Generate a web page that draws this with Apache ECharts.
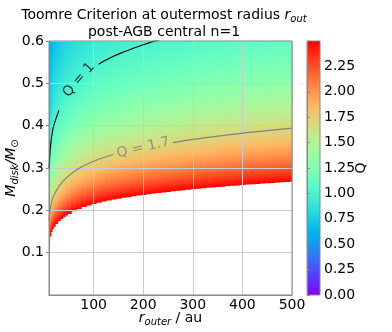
<!DOCTYPE html>
<html><head><meta charset="utf-8">
<script src="https://cdn.jsdelivr.net/npm/echarts@6/dist/echarts.min.js"></script>
<style>html,body{margin:0;padding:0;background:#fff}#c{width:392px;height:332px}</style>
</head><body><div id="c"></div>
<script>
// Outer radius samples (au)
const rOuter = [10,12.5,15,17.5,20,25,30,35,40,45,50,60,70,80,90,100,110,120,130,140,150,160,170,180,190,200,
  210,220,230,240,250,260,270,280,290,300,310,320,330,340,350,360,370,380,390,400,410,420,430,440,450,460,470,480,490,500];
// Q * (M_disk/M_sun) at each radius (Q = value / M_disk)
const qTimesMass = [0.300,0.345,0.372,0.390,0.402,0.420,0.436,0.449,0.460,0.470,0.479,0.495,0.508,0.519,0.528,0.537,0.545,0.552,0.558,0.564,0.569,0.574,0.578,0.583,0.587,0.591,
  0.595,0.599,0.602,0.606,0.609,0.612,0.615,0.619,0.622,0.625,0.627,0.630,0.633,0.635,0.638,0.640,0.643,0.645,0.647,0.650,0.652,0.654,0.656,0.658,0.660,0.662,0.664,0.666,0.668,0.670];
const contourLevels = [1, 1.7];
const contourText = ['Q = 1', 'Q = 1.7'];
const contourLabelR = [70, 200];
const contourGap = [[30, 110], [140, 260]];
const qMax = 2.5;
const massMax = 0.6;
const colorbarTicks = [0, 0.25, 0.5, 0.75, 1, 1.25, 1.5, 1.75, 2, 2.25];

const F = 'DejaVu Sans';
function rainbow(t) {
  t = Math.max(0, Math.min(1, t));
  const c = v => Math.round(255 * Math.max(0, Math.min(1, v)));
  return 'rgb(' + c(Math.abs(2 * t - 0.5)) + ',' + c(Math.sin(Math.PI * t)) + ',' + c(Math.cos(Math.PI * t / 2)) + ')';
}
const xMin = rOuter[0], xMax = rOuter[rOuter.length - 1];
const cols = rOuter.map((r, i) => {
  const l = i === 0 ? r : (rOuter[i - 1] + r) / 2;
  const rr = i === rOuter.length - 1 ? r : (rOuter[i + 1] + r) / 2;
  return [r, qTimesMass[i], l, rr];
});

function heatItem(params, api) {
  const g = api.value(1), l = api.value(2), rr = api.value(3);
  const mBot = g / qMax, mTop = massMax;
  const p1 = api.coord([l, mTop]), p2 = api.coord([rr, mBot]);
  const x0 = p1[0] - (l > xMin ? 0.5 : 0), x1 = p2[0] + (rr < xMax ? 0.5 : 0);
  const N = 30, stops = [];
  for (let k = 0; k <= N; k++) {
    const f = k / N, m = mTop - f * (mTop - mBot);
    stops.push({ offset: f, color: rainbow(g / m / qMax) });
  }
  return { type: 'rect', shape: { x: x0, y: p1[1], width: x1 - x0, height: p2[1] - p1[1] },
    style: { fill: new echarts.graphic.LinearGradient(0, 0, 0, 1, stops) } };
}
function barItem(params, api) {
  const p1 = api.coord([0, api.value(1)]), p2 = api.coord([1, api.value(0)]);
  const stops = [];
  for (let k = 0; k <= 40; k++) stops.push({ offset: k / 40, color: rainbow(1 - k / 40) });
  return { type: 'rect', shape: { x: p1[0], y: p1[1], width: p2[0] - p1[0], height: p2[1] - p1[1] },
    style: { fill: new echarts.graphic.LinearGradient(0, 0, 0, 1, stops) } };
}

const lineSeries = contourLevels.map((q, j) => ({
  type: 'line', xAxisIndex: 0, yAxisIndex: 0, z: 6, showSymbol: false, symbol: 'none', clip: true,
  connectNulls: false, animation: false,
  lineStyle: { color: j === 0 ? '#000' : '#808080', width: 1.1 },
  data: rOuter.map((r, i) => (r > contourGap[j][0] && r < contourGap[j][1]) ? [r, null] : [r, qTimesMass[i] / q])
}));
const labelSeries = contourLevels.map((q, j) => ({
  type: 'scatter', xAxisIndex: 0, yAxisIndex: 0, z: 7, symbolSize: 0, animation: false,
  data: [[contourLabelR[j], qTimesMass[rOuter.indexOf(contourLabelR[j])] / q]],
  label: { show: true, position: 'inside', formatter: contourText[j], rotate: j === 0 ? 49 : 13,
    fontSize: 14, fontFamily: F, color: j === 0 ? '#000' : '#808080' }
}));

const chart = echarts.init(document.getElementById('c'), null, { renderer: 'canvas' });
const sub = { fontSize: 10, fontStyle: 'italic', fontWeight: 'normal', fontFamily: F, verticalAlign: 'bottom', lineHeight: 10, color: '#000' };
chart.setOption({
  animation: false,
  backgroundColor: '#fff',
  title: {
    text: '{a|Toomre Criterion at outermost radius }{i|r}{s|out}\n{a|post-AGB central n=1}',
    left: 164, top: 7, textAlign: 'center', padding: 0,
    textStyle: { fontWeight: 'normal', rich: {
      a: { fontSize: 14, fontFamily: F, fontWeight: 'normal', color: '#000', lineHeight: 17 },
      i: { fontSize: 14, fontFamily: F, fontWeight: 'normal', fontStyle: 'italic', color: '#000', lineHeight: 17 },
      s: sub } }
  },
  grid: [
    { left: 49, top: 41, width: 243, height: 254, show: true, borderColor: '#888', borderWidth: 1, z: 10, outerBoundsMode: 'none', containLabel: false },
    { left: 307, top: 41, width: 13, height: 254, show: true, borderColor: '#888', borderWidth: 1, z: 10, outerBoundsMode: 'none', containLabel: false }
  ],
  xAxis: [
    { type: 'value', gridIndex: 0, min: xMin, max: xMax, minInterval: 100, maxInterval: 100, z: 5,
      axisLine: { show: true, lineStyle: { color: '#888' } }, axisTick: { show: false },
      axisLabel: { showMinLabel: false, margin: 3, fontSize: 14, fontFamily: F, color: '#000' },
      splitLine: { show: true, lineStyle: { color: '#cbcbcb', width: 1 } },
      name: '{i|r}{s|outer}{a| / au}', nameLocation: 'middle', nameGap: 15, nameMoveOverlap: false,
      nameTextStyle: { rich: {
        a: { fontSize: 14, fontFamily: F, color: '#000', lineHeight: 17 },
        i: { fontSize: 14, fontFamily: F, fontStyle: 'italic', color: '#000', lineHeight: 17 }, s: sub } } },
    { type: 'value', gridIndex: 1, min: 0, max: 1, show: false }
  ],
  yAxis: [
    { type: 'value', gridIndex: 0, min: 0, max: massMax, interval: 0.1, z: 5,
      axisLine: { show: true, lineStyle: { color: '#888' } },
      axisTick: { show: true, length: 3, lineStyle: { color: '#888' } },
      axisLabel: { showMinLabel: false, margin: 5, fontSize: 14, fontFamily: F, color: '#000', formatter: v => v.toFixed(1) },
      splitLine: { show: true, lineStyle: { color: '#cbcbcb', width: 1 } },
      name: '{i|M}{s|disk}{i|/M}{s|⊙}', nameLocation: 'middle', nameRotate: 90, nameGap: 29, nameMoveOverlap: false,
      nameTextStyle: { rich: {
        i: { fontSize: 14, fontFamily: F, fontStyle: 'italic', color: '#000', lineHeight: 17 }, s: sub } } },
    { type: 'value', gridIndex: 1, position: 'right', min: 0, max: qMax, interval: 0.25, z: 11,
      axisLine: { show: true, lineStyle: { color: '#888' } },
      axisTick: { show: true, length: 3, lineStyle: { color: '#888' } },
      axisLabel: { showMaxLabel: false, margin: 4, fontSize: 14, fontFamily: F, color: '#000', formatter: v => v.toFixed(2) },
      splitLine: { show: false },
      name: 'Q', nameLocation: 'middle', nameRotate: 90, nameGap: 34, nameMoveOverlap: false,
      nameTextStyle: { fontSize: 14, fontFamily: F, color: '#000' } }
  ],
  series: [
    { type: 'custom', xAxisIndex: 0, yAxisIndex: 0, z: 2, renderItem: heatItem, data: cols, animation: false, silent: true },
    { type: 'custom', xAxisIndex: 1, yAxisIndex: 1, z: 2, renderItem: barItem, data: [[colorbarTicks[0], qMax]], animation: false, silent: true }
  ].concat(lineSeries, labelSeries)
});
</script>
</body></html>
